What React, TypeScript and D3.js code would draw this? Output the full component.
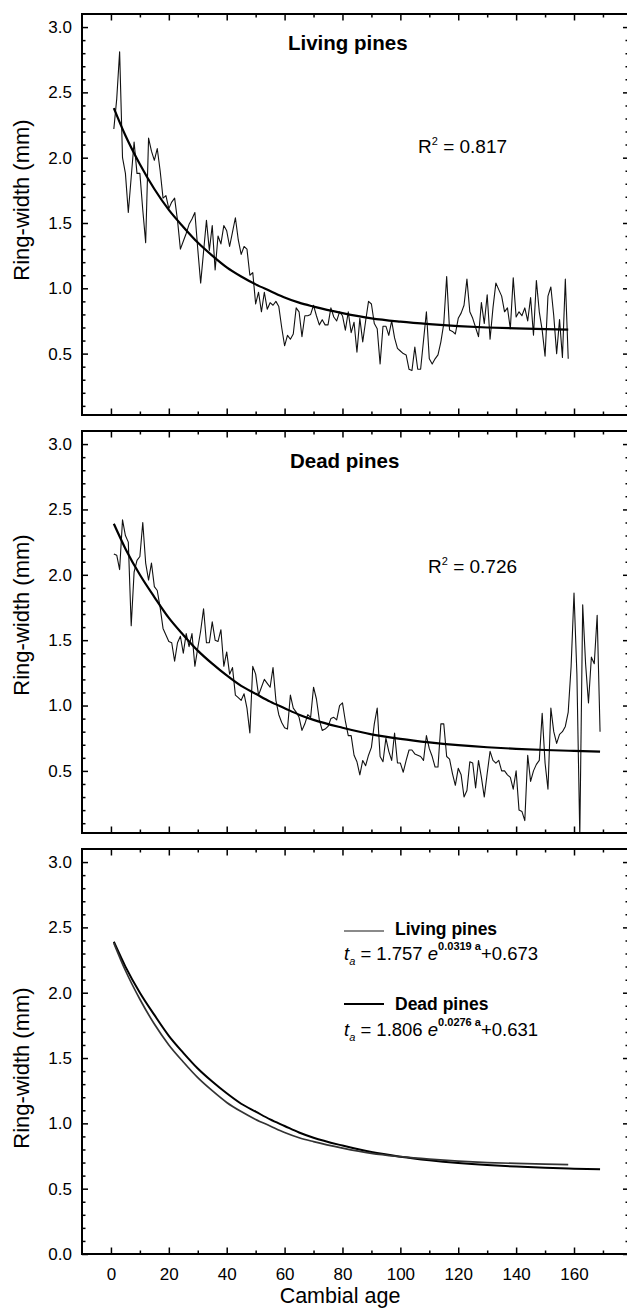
import React, { useRef, useEffect } from 'react';
import * as d3 from 'd3';

// ring widths (mm) by cambial age, first ring = age 1
const livingWidth = [
  2.22, 2.45, 2.81, 2.00, 1.88, 1.58, 1.85, 2.12, 1.88, 1.88,
  1.60, 1.35, 2.15, 2.05, 1.98, 2.07, 1.90, 1.69, 1.71, 1.61,
  1.66, 1.69, 1.52, 1.30, 1.36, 1.42, 1.49, 1.53, 1.58, 1.30,
  1.04, 1.28, 1.52, 1.29, 1.48, 1.14, 1.40, 1.34, 1.48, 1.44,
  1.32, 1.43, 1.54, 1.37, 1.26, 1.32, 1.30, 1.10, 1.12, 0.88,
  0.97, 0.82, 0.97, 0.84, 0.89, 0.87, 0.90, 0.86, 0.70, 0.56,
  0.64, 0.61, 0.65, 0.85, 0.82, 0.63, 0.79, 0.79, 0.80, 0.87,
  0.79, 0.72, 0.76, 0.72, 0.72, 0.85, 0.78, 0.75, 0.82, 0.79,
  0.68, 0.82, 0.66, 0.74, 0.51, 0.77, 0.59, 0.75, 0.90, 0.88,
  0.73, 0.69, 0.42, 0.71, 0.71, 0.64, 0.75, 0.62, 0.54, 0.52,
  0.50, 0.49, 0.38, 0.37, 0.55, 0.38, 0.38, 0.60, 0.82, 0.46,
  0.42, 0.46, 0.49, 0.59, 0.73, 1.09, 0.68, 0.67, 0.65, 0.77,
  0.81, 0.87, 1.07, 0.82, 0.77, 0.70, 0.63, 0.89, 0.73, 0.95,
  0.61, 0.85, 1.04, 0.99, 0.94, 0.82, 0.85, 0.69, 1.08, 0.78,
  0.82, 0.79, 0.85, 0.75, 0.93, 0.64, 1.06, 0.82, 0.68, 0.48,
  0.94, 1.01, 0.79, 0.50, 0.76, 0.47, 1.07, 0.46,
];

const deadWidth = [
  2.16, 2.15, 2.04, 2.42, 2.30, 2.25, 1.61, 2.02, 2.11, 2.14,
  2.40, 2.09, 1.96, 2.09, 1.91, 1.88, 1.75, 1.59, 1.54, 1.49,
  1.48, 1.34, 1.48, 1.53, 1.40, 1.55, 1.45, 1.55, 1.30, 1.44,
  1.57, 1.74, 1.48, 1.48, 1.64, 1.50, 1.49, 1.58, 1.30, 1.41,
  1.24, 1.29, 1.08, 1.06, 1.04, 1.09, 0.98, 0.79, 1.30, 1.24,
  1.08, 1.14, 1.20, 1.17, 1.14, 1.29, 1.04, 0.93, 0.87, 0.83,
  0.82, 1.08, 0.98, 0.95, 0.91, 0.81, 0.86, 0.93, 0.91, 1.14,
  1.05, 0.89, 0.81, 0.82, 0.84, 0.90, 0.91, 0.89, 1.00, 1.02,
  0.88, 0.77, 0.77, 0.62, 0.57, 0.47, 0.58, 0.54, 0.62, 0.68,
  0.86, 0.98, 0.61, 0.57, 0.75, 0.65, 0.58, 0.79, 0.56, 0.56,
  0.49, 0.58, 0.66, 0.66, 0.63, 0.62, 0.61, 0.58, 0.77, 0.67,
  0.61, 0.53, 0.53, 0.86, 0.86, 0.61, 0.59, 0.48, 0.39, 0.52,
  0.47, 0.30, 0.35, 0.57, 0.56, 0.37, 0.58, 0.45, 0.30, 0.48,
  0.65, 0.58, 0.56, 0.58, 0.50, 0.50, 0.47, 0.45, 0.36, 0.50,
  0.20, 0.19, 0.12, 0.62, 0.42, 0.50, 0.55, 0.58, 0.94, 0.56,
  0.36, 0.98, 0.80, 0.71, 0.78, 0.80, 0.84, 0.95, 1.30, 1.86,
  1.24, 0.00, 1.77, 1.32, 1.02, 1.37, 1.32, 1.69, 0.80,
];

// fitted curves, read at these ages
const livingFitAge = [1, 5, 10, 15, 20, 25, 30, 35, 40, 45, 50, 55, 60, 65, 70, 80, 90, 100, 110, 120, 130, 140, 150, 158];
const livingFit = [2.38, 2.17, 1.95, 1.76, 1.60, 1.47, 1.35, 1.25, 1.16, 1.09, 1.03, 0.98, 0.93, 0.89, 0.86, 0.81, 0.77, 0.745, 0.726, 0.711, 0.70, 0.693, 0.688, 0.684];
const deadFitAge = [1, 5, 10, 15, 20, 25, 30, 35, 40, 45, 50, 55, 60, 65, 70, 80, 90, 100, 110, 120, 130, 140, 150, 160, 169];
const deadFit = [2.39, 2.20, 2.00, 1.83, 1.67, 1.54, 1.42, 1.32, 1.23, 1.15, 1.09, 1.03, 0.98, 0.93, 0.89, 0.83, 0.78, 0.745, 0.718, 0.697, 0.681, 0.669, 0.66, 0.653, 0.648];

const xMajor = [0, 20, 40, 60, 80, 100, 120, 140, 160];
const xMinor = [10, 30, 50, 70, 90, 110, 130, 150, 170];
const yMajor = [0, 0.5, 1.0, 1.5, 2.0, 2.5, 3.0];
const yMinor = [0.1, 0.2, 0.3, 0.4, 0.6, 0.7, 0.8, 0.9, 1.1, 1.2, 1.3, 1.4, 1.6, 1.7, 1.8, 1.9, 2.1, 2.2, 2.3, 2.4, 2.6, 2.7, 2.8, 2.9, 3.1];

const FONT = 'Liberation Sans, Arial, sans-serif';

const panels = [
  { top: 14, bottom: 415, yMin: 0.03, title: 'Living pines', titleX: 288, titleY: 50, r2: '0.817', r2X: 418, r2Y: 153, raw: livingWidth, fitAge: livingFitAge, fit: livingFit, labelY: 200 },
  { top: 431, bottom: 833, yMin: 0.025, title: 'Dead pines', titleX: 290, titleY: 468, r2: '0.726', r2X: 428, r2Y: 573, raw: deadWidth, fitAge: deadFitAge, fit: deadFit, labelY: 615 },
  { top: 849, bottom: 1254, yMin: 0, labelY: 1068 },
];

const App = () => {
  const svgRef = useRef<SVGSVGElement>(null);

  useEffect(() => {
    const width = 627;
    const height = 1309;
    const svg = d3.select(svgRef.current)
      .attr('width', width)
      .attr('height', height)
      .style('background', 'white');
    svg.selectAll('*').remove();

    const x = d3.scaleLinear().domain([-10, 179]).range([82, 629]);

    panels.forEach((p: any, i: number) => {
      const y = d3.scaleLinear().domain([p.yMin, 3.1]).range([p.bottom, p.top]);
      const clipId = `plotclip${i}`;
      svg.append('clipPath').attr('id', clipId)
        .append('rect')
        .attr('x', x(-10)).attr('y', p.top)
        .attr('width', x(179) - x(-10)).attr('height', p.bottom - p.top);

      const plot = svg.append('g').attr('clip-path', `url(#${clipId})`);
      const line = d3.line<[number, number]>()
        .x(d => x(d[0]))
        .y(d => y(d[1]));
      const smooth = d3.line<[number, number]>()
        .curve(d3.curveMonotoneX)
        .x(d => x(d[0]))
        .y(d => y(d[1]));

      if (p.raw) {
        plot.append('path')
          .datum(p.raw.map((v: number, k: number) => [k + 1, v]))
          .attr('fill', 'none')
          .attr('stroke', '#111')
          .attr('stroke-width', 1.1)
          .attr('stroke-linejoin', 'round')
          .attr('d', line);
        plot.append('path')
          .datum(p.fitAge.map((a: number, k: number) => [a, p.fit[k]]))
          .attr('fill', 'none')
          .attr('stroke', 'black')
          .attr('stroke-width', 2.2)
          .attr('d', smooth);
      } else {
        // comparison of both fitted curves
        plot.append('path')
          .datum(deadFitAge.map((a, k) => [a, deadFit[k]]))
          .attr('fill', 'none')
          .attr('stroke', 'black')
          .attr('stroke-width', 2)
          .attr('d', smooth);
        plot.append('path')
          .datum(livingFitAge.map((a, k) => [a, livingFit[k]]))
          .attr('fill', 'none')
          .attr('stroke', '#333')
          .attr('stroke-width', 1.7)
          .attr('d', smooth);
      }

      // frame
      svg.append('rect')
        .attr('x', x(-10)).attr('y', p.top)
        .attr('width', x(179) - x(-10)).attr('height', p.bottom - p.top)
        .attr('fill', 'none')
        .attr('stroke', 'black')
        .attr('stroke-width', 2);

      const majY = yMajor.filter(v => v >= p.yMin + 0.05 || (p.yMin === 0 && v === 0));
      const minY = yMinor.filter(v => v > p.yMin && v < 3.1);

      // left axis
      const leftAx = svg.append('g').attr('transform', `translate(${x(-10)},0)`);
      leftAx.call(d3.axisLeft(y).tickValues(majY).tickSize(-6).tickPadding(10).tickFormat(d3.format('.1f')) as any);
      leftAx.append('g').call(d3.axisLeft(y).tickValues(minY).tickSize(-3.5).tickFormat(() => '') as any);
      // right axis
      const rightAx = svg.append('g').attr('transform', `translate(${x(179)},0)`);
      rightAx.call(d3.axisRight(y).tickValues(majY).tickSize(-6).tickFormat(() => '') as any);
      rightAx.append('g').call(d3.axisRight(y).tickValues(minY).tickSize(-3.5).tickFormat(() => '') as any);
      // top axis
      const topAx = svg.append('g').attr('transform', `translate(0,${p.top})`);
      topAx.call(d3.axisTop(x).tickValues(xMajor).tickSize(-6.5).tickFormat(() => '') as any);
      topAx.append('g').call(d3.axisTop(x).tickValues(xMinor).tickSize(-3.5).tickFormat(() => '') as any);
      // bottom axis
      const botAx = svg.append('g').attr('transform', `translate(0,${p.bottom})`);
      botAx.call(d3.axisBottom(x).tickValues(xMajor).tickSize(-6.5).tickPadding(14)
        .tickFormat(i === 2 ? (d3.format('d') as any) : () => '') as any);
      botAx.append('g').call(d3.axisBottom(x).tickValues(xMinor).tickSize(-3.5).tickFormat(() => '') as any);

      svg.selectAll('.domain').remove();
      svg.selectAll('.tick line').attr('stroke', 'black').attr('stroke-width', 1.5);
      svg.selectAll('.tick text')
        .attr('fill', 'black')
        .style('font-family', FONT)
        .style('font-size', '17px');

      svg.append('text')
        .attr('transform', `translate(29,${p.labelY}) rotate(-90)`)
        .attr('text-anchor', 'middle')
        .style('font-family', FONT)
        .style('font-size', '22px')
        .text('Ring-width (mm)');

      if (p.title) {
        svg.append('text')
          .attr('x', p.titleX).attr('y', p.titleY)
          .style('font-family', FONT)
          .style('font-size', '20.5px')
          .attr('font-weight', 'bold')
          .text(p.title);

        const r2 = svg.append('text')
          .attr('x', p.r2X).attr('y', p.r2Y)
          .style('font-family', FONT)
          .style('font-size', '19px');
        r2.append('tspan').text('R');
        r2.append('tspan').attr('dy', -8).style('font-size', '11px').text('2');
        r2.append('tspan').attr('dy', 8).text(` = ${p.r2}`);
      }
    });

    svg.append('text')
      .attr('x', 340).attr('y', 1303)
      .attr('text-anchor', 'middle')
      .style('font-family', FONT)
      .style('font-size', '21.5px')
      .text('Cambial age');

    // legend of the comparison panel
    const legend = [
      { label: 'Living pines', color: '#8a8a8a', a: '1.757', b: '0.0319', c: '+0.673', lineY: 931, textY: 935, eqY: 960 },
      { label: 'Dead pines', color: 'black', a: '1.806', b: '0.0276', c: '+0.631', lineY: 1004, textY: 1010, eqY: 1036 },
    ];
    legend.forEach(l => {
      svg.append('line')
        .attr('x1', 344).attr('x2', 384)
        .attr('y1', l.lineY).attr('y2', l.lineY)
        .attr('stroke', l.color)
        .attr('stroke-width', 2);
      svg.append('text')
        .attr('x', 395).attr('y', l.textY)
        .style('font-family', FONT)
        .style('font-size', '17.5px')
        .attr('font-weight', 'bold')
        .text(l.label);
      const eq = svg.append('text')
        .attr('x', 344).attr('y', l.eqY)
        .style('font-family', FONT)
        .style('font-size', '18.5px');
      eq.append('tspan').style('font-style', 'italic').text('t');
      eq.append('tspan').attr('dy', 5).style('font-size', '11px').style('font-style', 'italic').text('a');
      eq.append('tspan').attr('dy', -5).text(` = ${l.a} `);
      eq.append('tspan').style('font-style', 'italic').text('e');
      eq.append('tspan').attr('dy', -10).style('font-size', '11px').attr('font-weight', 'bold').text(`${l.b} a`);
      eq.append('tspan').attr('dy', 10).text(l.c);
    });
  }, []);

  return (
    <div style={{ position: 'absolute', left: 0, top: 0, background: 'white' }}>
      <svg ref={svgRef} style={{ display: 'block' }}></svg>
    </div>
  );
};

export default App;
